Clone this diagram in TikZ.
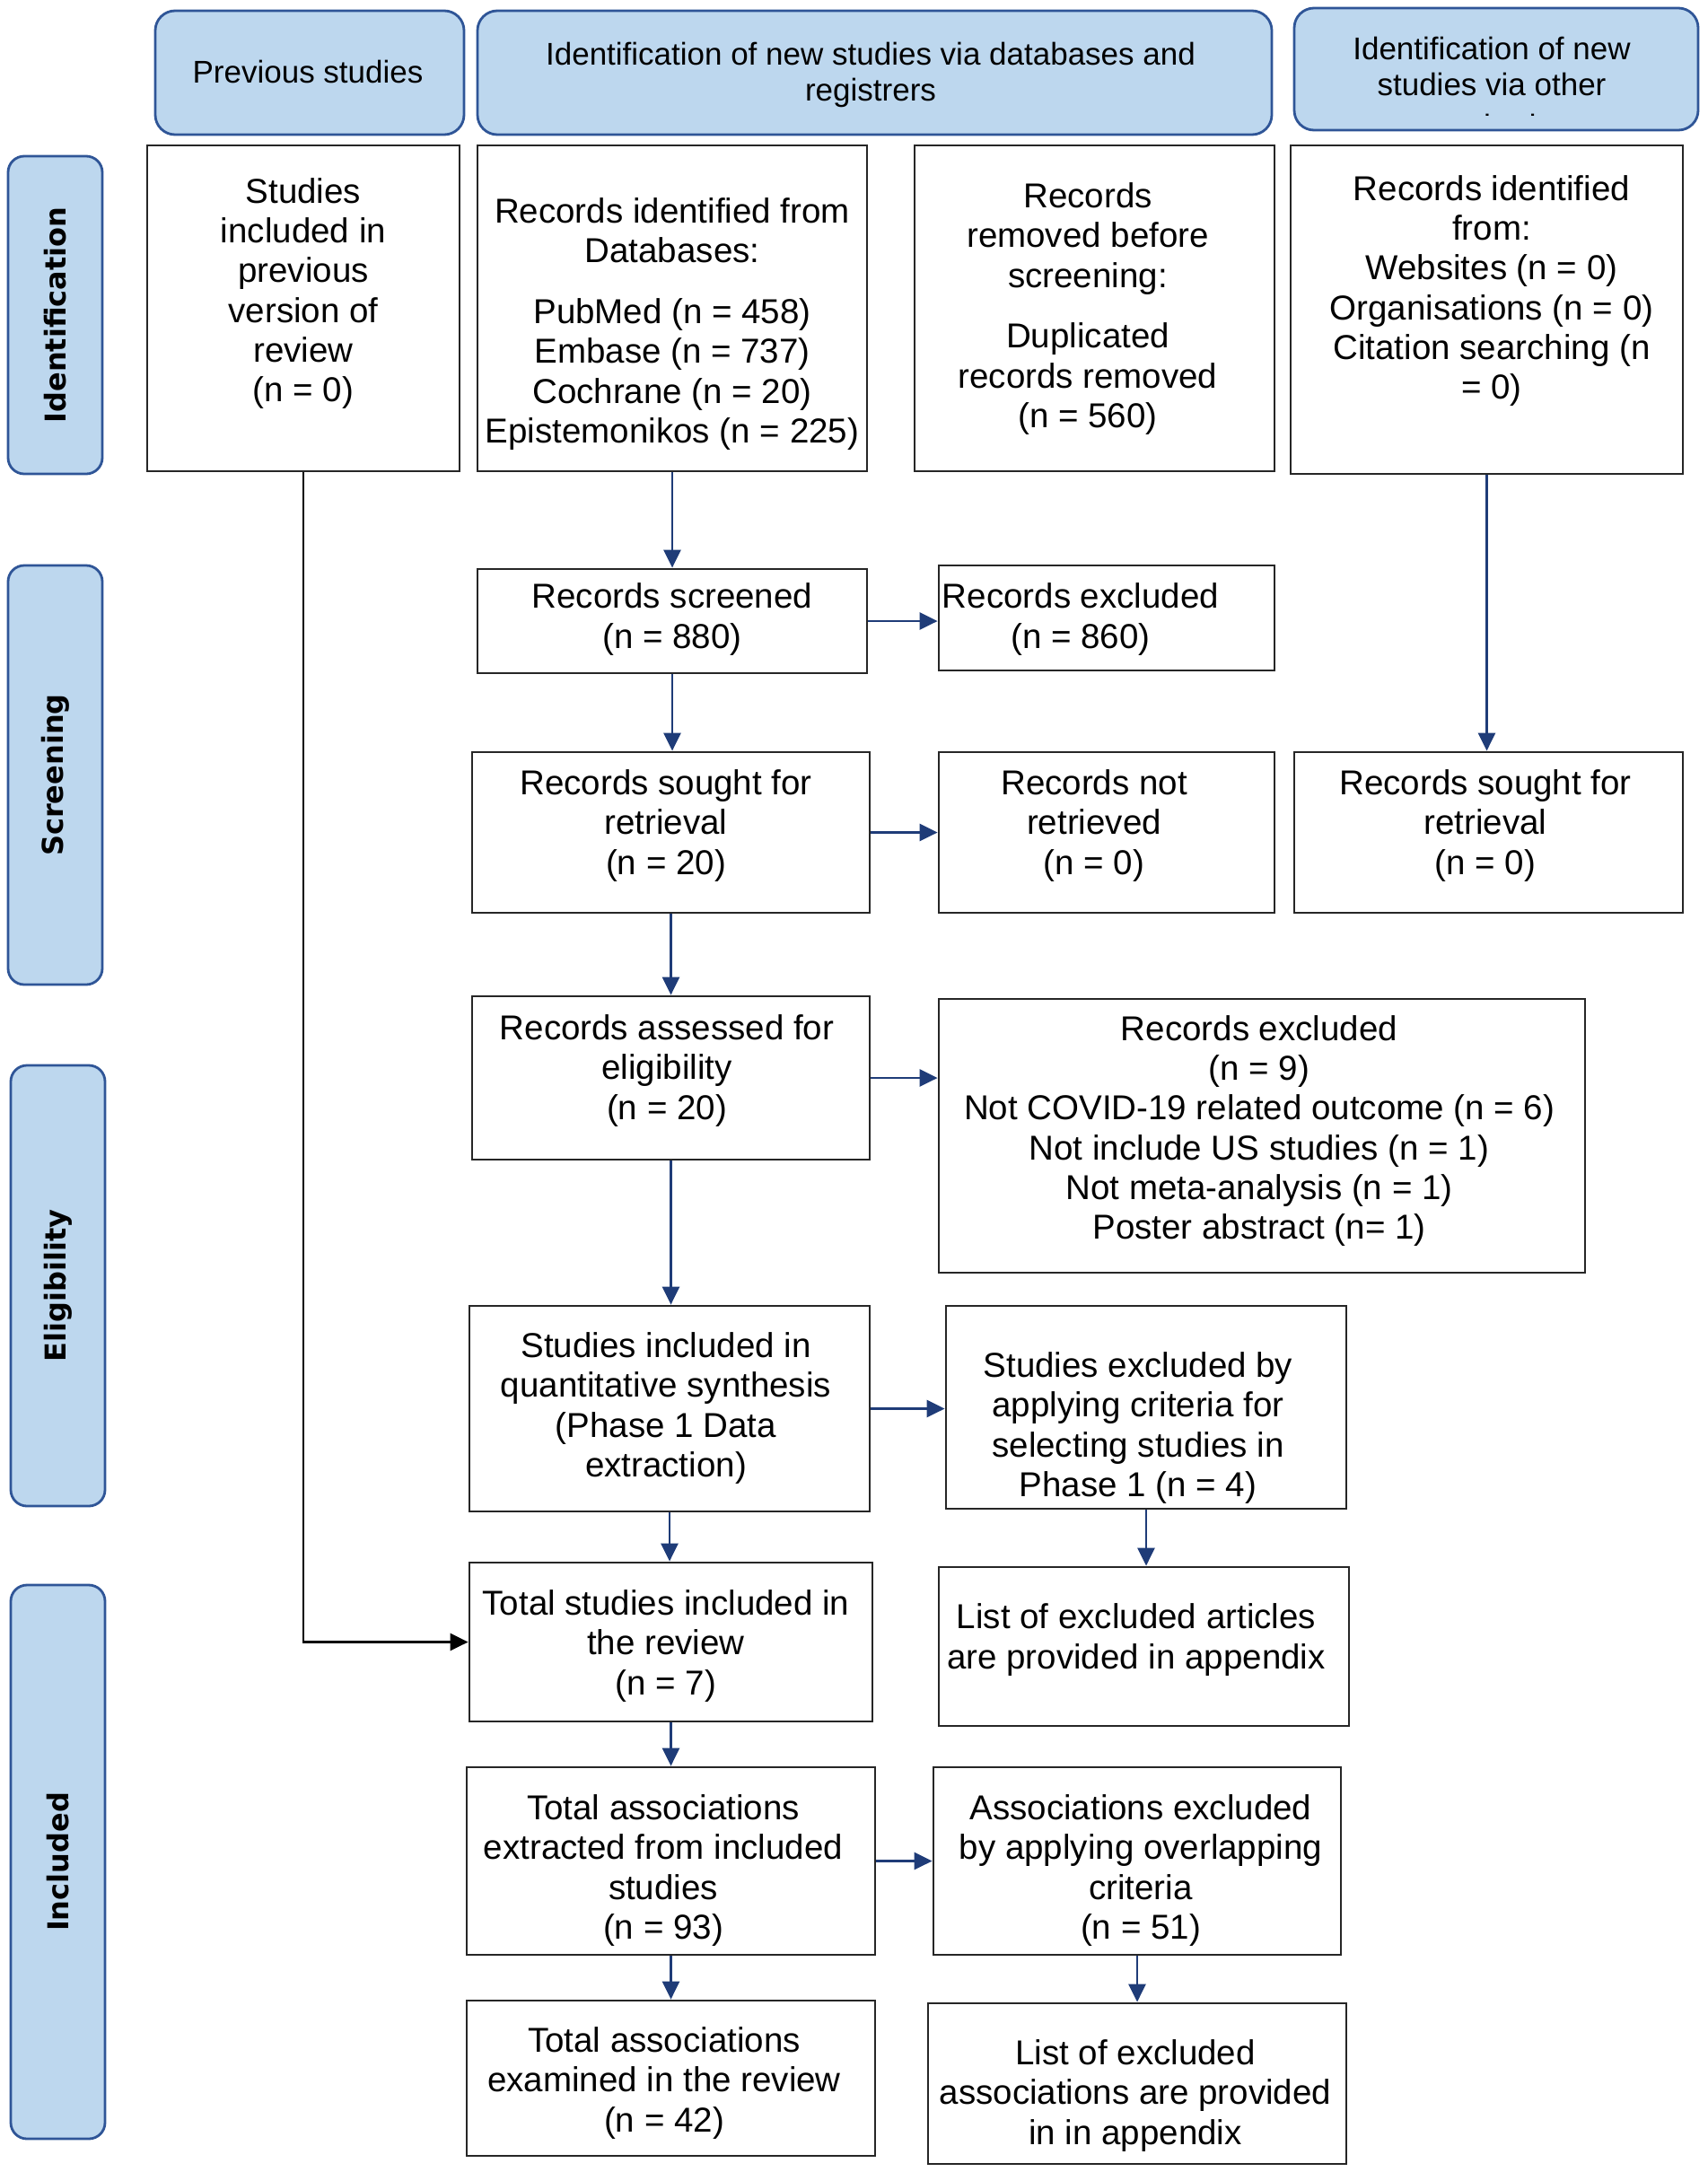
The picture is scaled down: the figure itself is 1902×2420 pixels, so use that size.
\documentclass[tikz,border=0pt]{standalone}
\usepackage{fontspec}
\setmainfont{Liberation Sans}
\newfontfamily\sidefam{DejaVu Sans}
\usetikzlibrary{arrows.meta,fit,calc}
\definecolor{hdrfill}{HTML}{BDD7EE}
\definecolor{hdrline}{HTML}{2F5597}
\definecolor{arrblue}{HTML}{1F3C78}
\newcommand\bodyfs{\fontsize{19.25pt}{22.15pt}\selectfont}
\newcommand\hdrfs{\fontsize{17.5pt}{20pt}\selectfont}
\newcommand\sidefs{\sidefam\bfseries\fontsize{16pt}{19pt}\selectfont}
\begin{document}
\begin{tikzpicture}[x=0.5pt,y=-0.5pt,
  box/.style={draw=black!85, line width=1.4pt, inner sep=0pt},
  txt/.style={align=center, font=\bodyfs, inner sep=0pt, yshift=-2pt},
  hdr/.style={draw=hdrline, fill=hdrfill, line width=1.4pt, rounded corners=11pt, inner sep=0pt},
  hdrtxt/.style={align=center, font=\hdrfs, inner sep=0pt},
  side/.style={hdr, rounded corners=9pt},
  sidetxt/.style={font=\sidefs, inner sep=0pt, rotate=90},
  arr/.style={draw=arrblue, line width=1.3pt, -{Triangle[width=9.5pt,length=10pt]}},
  arrk/.style={arr, draw=black}
]
\useasboundingbox (0,0) rectangle (1902,2420);
\fill[white] (0,0) rectangle (1902,2420);

% headers
\node[hdr, fit={(173,12) (517,150)}] (hPrev) {};
\node[hdrtxt] (hPrevT) at (343,80) {Previous studies};
\node[hdr, fit={(532,12) (1417,150)}] (hDb) {};
\node[hdrtxt, yshift=-1.5pt] (hDbT) at (970,80) {Identification of new studies via databases and\\registrers};
\node[hdr, fit={(1442,9) (1892,145)}] (hOther) {};
\begin{scope}
\clip (1442,9) rectangle (1892,128);
\node[hdrtxt] (hOtherT) at (1662,97) {Identification of new\\studies via other\\[3pt]methods};
\end{scope}

% side labels
\node[side, fit={(9,174) (114,528)}] (sId) {};
\node[sidetxt] (sIdT) at (sId.center) {Identification};
\node[side, fit={(9,630) (114,1097)}] (sScr) {};
\node[sidetxt] (sScrT) at (sScr.center) {Screening};
\node[side, fit={(12,1187) (117,1678)}] (sElig) {};
\node[sidetxt] (sEligT) at (sElig.center) {Eligibility};
\node[side, fit={(12,1766) (117,2383)}] (sInc) {};
\node[sidetxt] (sIncT) at (sInc.center) {Included};

% boxes
\node[box, fit={(164,162) (512,525)}] (prev) {};
\node[txt] (prevT) at (338,323) {Studies\\included in\\previous\\version of\\review\\(n = 0)};

\node[box, fit={(532,162) (966,525)}] (db) {};
\node[txt] (dbT) at (749,357) {Records identified from\\Databases:\\[11.8pt]PubMed (n = 458)\\Embase (n = 737)\\Cochrane (n = 20)\\Epistemonikos (n = 225)};

\node[box, fit={(1019,162) (1420,525)}] (removed) {};
\node[txt] (removedT) at (1212,340) {Records\\removed before\\screening:\\[11.8pt]Duplicated\\records removed\\(n = 560)};

\node[box, fit={(1438,162) (1875,528)}] (other) {};
\node[txt] (otherT) at (1662,320) {Records identified\\from:\\Websites (n = 0)\\Organisations (n = 0)\\Citation searching (n\\= 0)};

\node[box, fit={(532,634) (966,750)}] (screened) {};
\node[txt] (screenedT) at (749,686) {Records screened\\(n = 880)};

\node[box, fit={(1046,630) (1420,747)}] (excl1) {};
\node[txt] (excl1T) at (1204,686) {Records excluded\\(n = 860)};

\node[box, fit={(526,838) (969,1017)}] (sought) {};
\node[txt] (soughtT) at (742,916) {Records sought for\\retrieval\\(n = 20)};

\node[box, fit={(1046,838) (1420,1017)}] (notret) {};
\node[txt] (notretT) at (1219,916) {Records not\\retrieved\\(n = 0)};

\node[box, fit={(1442,838) (1875,1017)}] (sought2) {};
\node[txt] (sought2T) at (1655,916) {Records sought for\\retrieval\\(n = 0)};

\node[box, fit={(526,1110) (969,1292)}] (assessed) {};
\node[txt] (assessedT) at (743,1189) {Records assessed for\\eligibility\\(n = 20)};

\node[box, fit={(1046,1113) (1766,1418)}] (excl2) {};
\node[txt] (excl2T) at (1403,1256) {Records excluded\\(n = 9)\\Not COVID-19 related outcome (n = 6)\\Not include US studies (n = 1)\\Not meta-analysis (n = 1)\\Poster abstract (n= 1)};

\node[box, fit={(523,1455) (969,1684)}] (quant) {};
\node[txt] (quantT) at (742,1565) {Studies included in\\quantitative synthesis\\(Phase 1 Data\\extraction)};

\node[box, fit={(1054,1455) (1500,1681)}] (exclP1) {};
\node[txt] (exclP1T) at (1268,1587) {Studies excluded by\\applying criteria for\\selecting studies in\\Phase 1 (n = 4)};

\node[box, fit={(523,1741) (972,1918)}] (total) {};
\node[txt] (totalT) at (742,1830) {Total studies included in\\the review\\(n = 7)};

\node[box, fit={(1046,1746) (1503,1923)}] (listart) {};
\node[txt] (listartT) at (1266,1823) {List of excluded articles\\are provided in appendix};

\node[box, fit={(520,1969) (975,2178)}] (assocext) {};
\node[txt] (assocextT) at (739,2080) {Total associations\\extracted from included\\studies\\(n = 93)};

\node[box, fit={(1040,1969) (1494,2178)}] (assocexcl) {};
\node[txt] (assocexclT) at (1271,2080) {Associations excluded\\by applying overlapping\\criteria\\(n = 51)};

\node[box, fit={(520,2229) (975,2402)}] (assocexam) {};
\node[txt] (assocexamT) at (740,2317) {Total associations\\examined in the review\\(n = 42)};

\node[box, fit={(1034,2232) (1500,2411)}] (listassoc) {};
\node[txt] (listassocT) at (1265,2331) {List of excluded\\associations are provided\\in in appendix};

% connectors
\draw[arr] (db.south) -- (screened.north);
\draw[arr] (screened.east) -- (screened.east -| excl1.west);
\draw[arr] (screened.south) -- (screened.south |- sought.north);
\draw[arr] (sought.east) -- (sought.east -| notret.west);
\draw[arr] (other.south) -- (other.south |- sought2.north);
\draw[arr] (sought.south) -- (sought.south |- assessed.north);
\draw[arr] (assessed.east) -- (assessed.east -| excl2.west);
\draw[arr] (assessed.south) -- (assessed.south |- quant.north);
\draw[arr] (quant.east) -- (quant.east -| exclP1.west);
\draw[arr] (quant.south) -- (quant.south |- total.north);
\draw[arr] (exclP1.south) -- (exclP1.south |- listart.north);
\draw[arrk] (prev.south) |- (total.west);
\draw[arr] (total.south) -- (total.south |- assocext.north);
\draw[arr] (assocext.east) -- (assocext.east -| assocexcl.west);
\draw[arr] (assocext.south) -- (assocext.south |- assocexam.north);
\draw[arr] (assocexcl.south) -- (assocexcl.south |- listassoc.north);
\end{tikzpicture}
\end{document}
